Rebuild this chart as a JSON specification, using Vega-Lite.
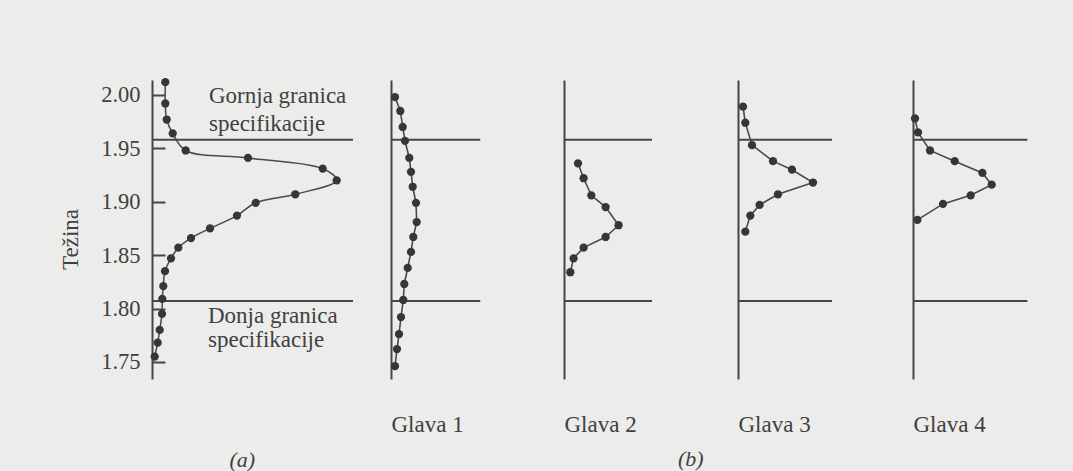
{
  "$schema": "https://vega.github.io/schema/vega-lite/v6.json",
  "background": "#ececea",
  "padding": {"left": 59, "top": 78, "right": 46, "bottom": 0},
  "bounds": "flush",
  "spacing": 0,
  "config": {
    "view": {"stroke": null},
    "font": "Liberation Serif",
    "axis": {
      "grid": false,
      "titleFont": "Liberation Serif",
      "titleFontSize": 23,
      "titleFontWeight": "normal",
      "titleColor": "#404040",
      "labelFont": "Liberation Serif",
      "labelFontSize": 22.5,
      "labelColor": "#404040",
      "domainColor": "#454545",
      "domainWidth": 2,
      "tickColor": "#454545",
      "tickWidth": 2
    }
  },
  "datasets": {
    "spec": [
      {"granica": "gornja", "w": 1.958},
      {"granica": "donja", "w": 1.807}
    ],
    "a": [
      {"f": 13.3, "w": 2.012}, {"f": 13.3, "w": 1.992}, {"f": 14.7, "w": 1.977},
      {"f": 20.7, "w": 1.964}, {"f": 33.7, "w": 1.948}, {"f": 96, "w": 1.941},
      {"f": 170.7, "w": 1.931}, {"f": 184.7, "w": 1.920}, {"f": 143.3, "w": 1.907},
      {"f": 103.7, "w": 1.899}, {"f": 85, "w": 1.887}, {"f": 58, "w": 1.875},
      {"f": 39, "w": 1.866}, {"f": 26.3, "w": 1.857}, {"f": 19, "w": 1.847},
      {"f": 13, "w": 1.835}, {"f": 11.3, "w": 1.821}, {"f": 10.3, "w": 1.809},
      {"f": 10, "w": 1.795}, {"f": 7.7, "w": 1.780}, {"f": 5.7, "w": 1.768},
      {"f": 2.7, "w": 1.755}
    ],
    "g1": [
      {"f": 4, "w": 1.998}, {"f": 9.3, "w": 1.985}, {"f": 11.7, "w": 1.970},
      {"f": 14, "w": 1.957}, {"f": 18.3, "w": 1.941}, {"f": 20, "w": 1.928},
      {"f": 21.7, "w": 1.914}, {"f": 25, "w": 1.899}, {"f": 25.7, "w": 1.881},
      {"f": 22.3, "w": 1.867}, {"f": 20, "w": 1.853}, {"f": 16.7, "w": 1.838},
      {"f": 13.3, "w": 1.823}, {"f": 12.3, "w": 1.808}, {"f": 10, "w": 1.792},
      {"f": 8, "w": 1.776}, {"f": 6, "w": 1.762}, {"f": 4, "w": 1.746}
    ],
    "g2": [
      {"f": 14, "w": 1.936}, {"f": 19.6, "w": 1.922}, {"f": 27.3, "w": 1.906},
      {"f": 41.6, "w": 1.895}, {"f": 54.6, "w": 1.878}, {"f": 41.6, "w": 1.867},
      {"f": 19.6, "w": 1.857}, {"f": 9.6, "w": 1.847}, {"f": 6.3, "w": 1.834}
    ],
    "g3": [
      {"f": 5, "w": 1.989}, {"f": 7.3, "w": 1.974}, {"f": 14, "w": 1.953},
      {"f": 35, "w": 1.938}, {"f": 54, "w": 1.930}, {"f": 75, "w": 1.918},
      {"f": 40, "w": 1.907}, {"f": 21.6, "w": 1.897}, {"f": 12.3, "w": 1.887},
      {"f": 7.3, "w": 1.872}
    ],
    "g4": [
      {"f": 2, "w": 1.978}, {"f": 5, "w": 1.965}, {"f": 17, "w": 1.948},
      {"f": 41.7, "w": 1.938}, {"f": 69.4, "w": 1.927}, {"f": 78.7, "w": 1.916},
      {"f": 57.7, "w": 1.906}, {"f": 30, "w": 1.898}, {"f": 4.4, "w": 1.883}
    ]
  },
  "hconcat": [
    {
      "width": 239,
      "height": 299,
      "layer": [
        {
          "data": {"name": "spec"},
          "mark": {"type": "rule", "color": "#474747", "strokeWidth": 2},
          "encoding": {
            "y": {
              "field": "w", "type": "quantitative",
              "scale": {"domain": [1.734, 2.014], "nice": false, "zero": false},
              "axis": {
                "values": [1.75, 1.8, 1.85, 1.9, 1.95, 2.0],
                "format": ".2f",
                "tickSize": -13,
                "labelPadding": 25,
                "title": "Težina",
                "titleFontSize": 23,
                "titleX": -74.3,
                "titleY": 159,
                "titleBaseline": "alphabetic",
                "titleAngle": 270,
                "titleAlign": "center"
              }
            },
            "x": {
              "datum": 0, "type": "quantitative",
              "scale": {"domain": [0, 239], "nice": false, "zero": false},
              "axis": {
                "domain": false, "ticks": false, "labels": false,
                "title": "(a)", "titleFontStyle": "italic", "titleFontSize": 22,
                "titleAnchor": "start", "titleAlign": "left", "titleBaseline": "alphabetic",
                "titleX": 77, "titleY": 87
              }
            },
            "x2": {"datum": 201}
          }
        },
        {
          "data": {"name": "a"},
          "mark": {"type": "line", "interpolate": "catmull-rom", "color": "#4a4a4a", "strokeWidth": 1.5},
          "encoding": {
            "x": {"field": "f", "type": "quantitative"},
            "y": {"field": "w", "type": "quantitative"},
            "order": {"field": "w", "type": "quantitative"}
          }
        },
        {
          "data": {"name": "a"},
          "mark": {"type": "point", "filled": true, "size": 68, "color": "#363636", "opacity": 1},
          "encoding": {
            "x": {"field": "f", "type": "quantitative"},
            "y": {"field": "w", "type": "quantitative"}
          }
        },
        {
          "data": {"values": [{}]},
          "mark": {"type": "text", "text": ["Gornja granica", "specifikacije"], "align": "left", "baseline": "alphabetic", "fontSize": 23, "lineHeight": 28, "font": "Liberation Serif", "color": "#404040"},
          "encoding": {"x": {"datum": 57}, "y": {"datum": 1.9922}}
        },
        {
          "data": {"values": [{}]},
          "mark": {"type": "text", "text": ["Donja granica", "specifikacije"], "align": "left", "baseline": "alphabetic", "fontSize": 23, "lineHeight": 24, "font": "Liberation Serif", "color": "#404040"},
          "encoding": {"x": {"datum": 56}, "y": {"datum": 1.7862}}
        }
      ]
    },
    {
      "width": 173,
      "height": 299,
      "layer": [
        {
          "data": {"name": "spec"},
          "mark": {"type": "rule", "color": "#474747", "strokeWidth": 2},
          "encoding": {
            "y": {
              "field": "w", "type": "quantitative",
              "scale": {"domain": [1.734, 2.014], "nice": false, "zero": false},
              "axis": {"ticks": false, "labels": false, "title": null}
            },
            "x": {
              "datum": 0, "type": "quantitative",
              "scale": {"domain": [0, 173], "nice": false, "zero": false},
              "axis": {
                "domain": false, "ticks": false, "labels": false,
                "title": "Glava 1", "titleAnchor": "start", "titleAlign": "left",
                "titleBaseline": "alphabetic", "titleX": 0, "titleY": 52.7
              }
            },
            "x2": {"datum": 89.3}
          }
        },
        {
          "data": {"name": "g1"},
          "mark": {"type": "line", "color": "#4a4a4a", "strokeWidth": 1.6},
          "encoding": {
            "x": {"field": "f", "type": "quantitative"},
            "y": {"field": "w", "type": "quantitative"},
            "order": {"field": "w", "type": "quantitative"}
          }
        },
        {
          "data": {"name": "g1"},
          "mark": {"type": "point", "filled": true, "size": 68, "color": "#363636", "opacity": 1},
          "encoding": {
            "x": {"field": "f", "type": "quantitative"},
            "y": {"field": "w", "type": "quantitative"}
          }
        }
      ]
    },
    {
      "width": 174,
      "height": 299,
      "layer": [
        {
          "data": {"name": "spec"},
          "mark": {"type": "rule", "color": "#474747", "strokeWidth": 2},
          "encoding": {
            "y": {
              "field": "w", "type": "quantitative",
              "scale": {"domain": [1.734, 2.014], "nice": false, "zero": false},
              "axis": {"ticks": false, "labels": false, "title": null}
            },
            "x": {
              "datum": 0, "type": "quantitative",
              "scale": {"domain": [0, 174], "nice": false, "zero": false},
              "axis": {
                "domain": false, "ticks": false, "labels": false,
                "title": "Glava 2", "titleAnchor": "start", "titleAlign": "left",
                "titleBaseline": "alphabetic", "titleX": 0, "titleY": 52.7
              }
            },
            "x2": {"datum": 88}
          }
        },
        {
          "data": {"name": "g2"},
          "mark": {"type": "line", "color": "#4a4a4a", "strokeWidth": 1.6},
          "encoding": {
            "x": {"field": "f", "type": "quantitative"},
            "y": {"field": "w", "type": "quantitative"},
            "order": {"field": "w", "type": "quantitative"}
          }
        },
        {
          "data": {"name": "g2"},
          "mark": {"type": "point", "filled": true, "size": 68, "color": "#363636", "opacity": 1},
          "encoding": {
            "x": {"field": "f", "type": "quantitative"},
            "y": {"field": "w", "type": "quantitative"}
          }
        },
        {
          "data": {"values": [{}]},
          "mark": {"type": "text", "text": "(b)", "align": "left", "baseline": "alphabetic", "fontSize": 22, "fontStyle": "italic", "font": "Liberation Serif", "color": "#404040"},
          "encoding": {"x": {"datum": 114}, "y": {"datum": 1.6525}}
        }
      ]
    },
    {
      "width": 175,
      "height": 299,
      "layer": [
        {
          "data": {"name": "spec"},
          "mark": {"type": "rule", "color": "#474747", "strokeWidth": 2},
          "encoding": {
            "y": {
              "field": "w", "type": "quantitative",
              "scale": {"domain": [1.734, 2.014], "nice": false, "zero": false},
              "axis": {"ticks": false, "labels": false, "title": null}
            },
            "x": {
              "datum": 0, "type": "quantitative",
              "scale": {"domain": [0, 175], "nice": false, "zero": false},
              "axis": {
                "domain": false, "ticks": false, "labels": false,
                "title": "Glava 3", "titleAnchor": "start", "titleAlign": "left",
                "titleBaseline": "alphabetic", "titleX": 0, "titleY": 52.7
              }
            },
            "x2": {"datum": 94}
          }
        },
        {
          "data": {"name": "g3"},
          "mark": {"type": "line", "color": "#4a4a4a", "strokeWidth": 1.6},
          "encoding": {
            "x": {"field": "f", "type": "quantitative"},
            "y": {"field": "w", "type": "quantitative"},
            "order": {"field": "w", "type": "quantitative"}
          }
        },
        {
          "data": {"name": "g3"},
          "mark": {"type": "point", "filled": true, "size": 68, "color": "#363636", "opacity": 1},
          "encoding": {
            "x": {"field": "f", "type": "quantitative"},
            "y": {"field": "w", "type": "quantitative"}
          }
        }
      ]
    },
    {
      "width": 115,
      "height": 299,
      "layer": [
        {
          "data": {"name": "spec"},
          "mark": {"type": "rule", "color": "#474747", "strokeWidth": 2},
          "encoding": {
            "y": {
              "field": "w", "type": "quantitative",
              "scale": {"domain": [1.734, 2.014], "nice": false, "zero": false},
              "axis": {"ticks": false, "labels": false, "title": null}
            },
            "x": {
              "datum": 0, "type": "quantitative",
              "scale": {"domain": [0, 115], "nice": false, "zero": false},
              "axis": {
                "domain": false, "ticks": false, "labels": false,
                "title": "Glava 4", "titleAnchor": "start", "titleAlign": "left",
                "titleBaseline": "alphabetic", "titleX": 0, "titleY": 52.7
              }
            },
            "x2": {"datum": 114.4}
          }
        },
        {
          "data": {"name": "g4"},
          "mark": {"type": "line", "color": "#4a4a4a", "strokeWidth": 1.6},
          "encoding": {
            "x": {"field": "f", "type": "quantitative"},
            "y": {"field": "w", "type": "quantitative"},
            "order": {"field": "w", "type": "quantitative"}
          }
        },
        {
          "data": {"name": "g4"},
          "mark": {"type": "point", "filled": true, "size": 68, "color": "#363636", "opacity": 1},
          "encoding": {
            "x": {"field": "f", "type": "quantitative"},
            "y": {"field": "w", "type": "quantitative"}
          }
        }
      ]
    }
  ]
}
